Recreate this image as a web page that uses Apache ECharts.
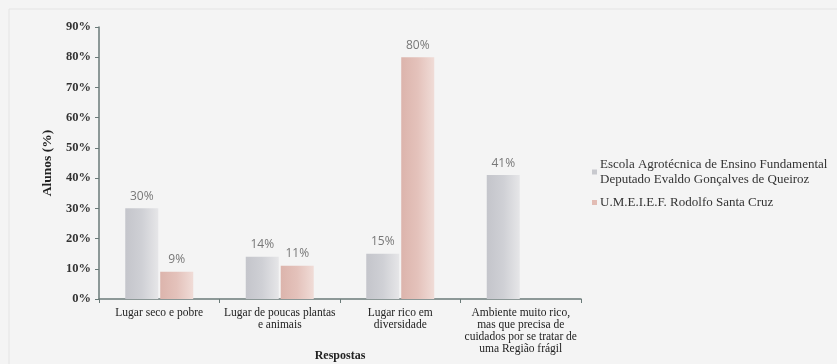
<!DOCTYPE html>
<html><head><meta charset="utf-8">
<script src="https://cdn.jsdelivr.net/npm/echarts@6/dist/echarts.min.js"></script>
<style>html,body{margin:0;padding:0;background:#f4f4f4;}#c{width:837px;height:364px;}</style>
</head><body><div id="c"></div>
<script>
var categories = ['Lugar seco e pobre', 'Lugar de poucas plantas\ne animais', 'Lugar rico em\ndiversidade', 'Ambiente muito rico,\nmas que precisa de\ncuidados por se tratar de\numa Região frágil'];
var seriesNames = ['Escola Agrotécnica de Ensino Fundamental\nDeputado Evaldo Gonçalves de Queiroz', 'U.M.E.I.E.F. Rodolfo Santa Cruz'];
var escola = [30, 14, 15, 41];
var umeief = [9, 11, 80, null];
var yTicks = [0, 10, 20, 30, 40, 50, 60, 70, 80, 90];

function grad(c1, c2, c3) {
  return new echarts.graphic.LinearGradient(0, 0, 1, 0, [
    {offset: 0, color: c1}, {offset: 0.5, color: c2}, {offset: 1, color: c3}
  ]);
}
var chart = echarts.init(document.getElementById('c'));
var serif = '"Liberation Serif", "DejaVu Serif", serif';
var lbl = {show: true, position: 'top', distance: 6, color: '#777', fontSize: 12, fontFamily: '"Open Sans", sans-serif', formatter: function(p){ return p.value == null ? '' : p.value + '%'; }};
chart.setOption({
  backgroundColor: '#f4f4f4',
  animation: false,
  graphic: [{type: 'rect', shape: {x: 9, y: 9, width: 840, height: 360}, style: {fill: 'none', stroke: '#e4e4e4', lineWidth: 1}}],
  grid: {left: 99, right: 256, top: 27, bottom: 65, containLabel: false, outerBoundsMode: 'none'},
  legend: {
    orient: 'vertical', left: 587, top: 152, itemWidth: 5, itemHeight: 5, itemGap: 8,
    icon: 'rect',
    textStyle: {fontFamily: serif, fontSize: 13, color: '#333', lineHeight: 15, padding: [0, 0, 0, -2]},
    data: [
      {name: seriesNames[0], itemStyle: {color: '#c8c9ce'}},
      {name: seriesNames[1], itemStyle: {color: '#e2bcb4'}}
    ]
  },
  xAxis: {
    type: 'category', data: categories,
    name: 'Respostas', nameLocation: 'middle', nameGap: 51, nameMoveOverlap: false,
    nameTextStyle: {fontFamily: serif, fontWeight: 'bold', fontSize: 12, color: '#222'},
    axisLine: {lineStyle: {color: '#6a7a78', width: 1.5}},
    axisTick: {show: true, length: 4, lineStyle: {color: '#6a7a78'}},
    axisLabel: {fontFamily: serif, fontSize: 11.5, color: '#222', lineHeight: 12, margin: 8, interval: 0}
  },
  yAxis: {
    type: 'value', min: 0, max: 90, interval: 10,
    name: 'Alunos (%)', nameLocation: 'middle', nameGap: 44, nameMoveOverlap: false,
    nameTextStyle: {fontFamily: serif, fontWeight: 'bold', fontSize: 13.5, color: '#222'},
    axisLine: {show: true, lineStyle: {color: '#6a7a78', width: 1.5}},
    axisTick: {show: true, length: 4, lineStyle: {color: '#6a7a78'}},
    splitLine: {show: false},
    axisLabel: {fontFamily: serif, fontWeight: 'bold', fontSize: 12.5, color: '#333', margin: 8,
      formatter: function(v){ return yTicks.indexOf(v) >= 0 ? v + '%' : ''; }}
  },
  series: [
    {name: seriesNames[0], type: 'bar', data: escola, barWidth: 33, barGap: '6%',
     itemStyle: {color: grad('#c4c5cb', '#cfd0d5', '#e6e6e8')}, label: lbl},
    {name: seriesNames[1], type: 'bar', data: umeief, barWidth: 33,
     itemStyle: {color: grad('#dcb4ac', '#e4c2bb', '#f0dcd7')}, label: lbl}
  ]
});
</script></body></html>
